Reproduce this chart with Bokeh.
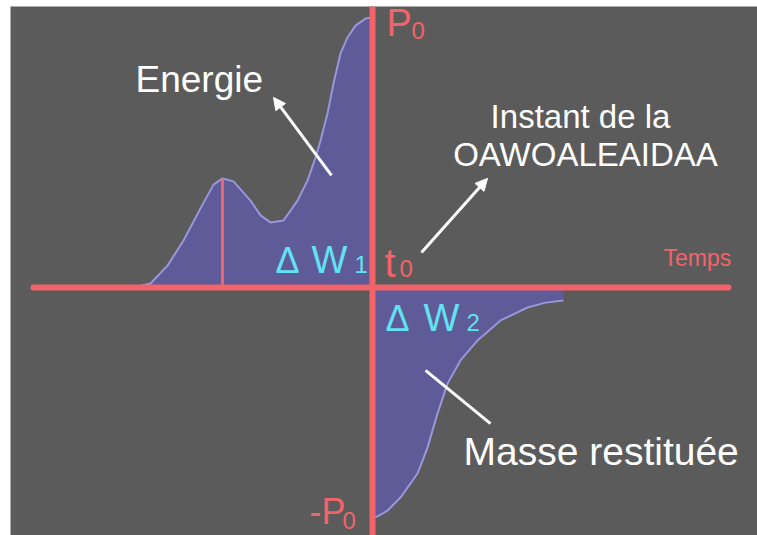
from bokeh.plotting import figure
from bokeh.models import Range1d, Arrow, NormalHead
from bokeh.core.properties import value
from bokeh.embed import file_html
from bokeh.resources import INLINE

# ---- data (time t, with t0 = 0 ; power P, with P0 = 1) ----
t_before = [-2.39, -2.22, -2.05, -1.89, -1.72, -1.59, -1.50, -1.39, -1.22, -1.12,
            -1.02, -0.89, -0.75, -0.65, -0.57, -0.52, -0.45, -0.39, -0.32, -0.25,
            -0.17, -0.07, 0.0]
p_before = [0.0, 0.015, 0.081, 0.174, 0.293, 0.381, 0.404, 0.393, 0.322, 0.267,
            0.241, 0.248, 0.322, 0.396, 0.481, 0.544, 0.644, 0.756, 0.867, 0.926,
            0.970, 0.996, 1.0]
t_after = [0.0, 0.05, 0.15, 0.28, 0.45, 0.55, 0.65, 0.75, 0.88, 1.05, 1.28, 1.55, 1.73, 1.91]
p_after = [-0.85, -0.848, -0.826, -0.778, -0.689, -0.593, -0.467, -0.356, -0.270,
           -0.196, -0.122, -0.074, -0.056, -0.048]
t_peak = -1.50
p_peak = 0.404
time_axis = [-3.39, 3.56]
power_axis = [1.08, -0.95]

BG = "#5b5b5b"
RED = "#f2636a"
CYAN = "#62e2f2"
FILL = "#5e5b98"
CURVE = "#9a96dc"
FONT = value("Liberation Sans")

p = figure(width=757, height=535, output_backend="svg", toolbar_location=None,
           x_range=Range1d(-3.62, 3.85), y_range=Range1d(-0.9185, 1.0407),
           min_border_left=10, min_border_right=0, min_border_top=6, min_border_bottom=0,
           background_fill_color=BG, border_fill_color="white", outline_line_color=None)
p.xaxis.visible = False
p.yaxis.visible = False
p.grid.visible = False

# filled areas
p.varea(x=t_before, y1=[0] * len(t_before), y2=p_before, fill_color=FILL)
p.varea(x=t_after, y1=p_after, y2=[0] * len(t_after), fill_color=FILL)
p.line(t_before, p_before, line_color=CURVE, line_width=2)
p.line(t_after, p_after, line_color=CURVE, line_width=2)

# axes
p.line(time_axis, [0, 0], line_color=RED, line_width=6, line_cap="round")
p.line([0, 0], power_axis, line_color=RED, line_width=6)
p.line([t_peak, t_peak], [0, p_peak], line_color=RED, line_width=3)

# annotation arrows
p.add_layout(Arrow(end=NormalHead(size=12, fill_color="white", line_color="white"),
                   x_start=-0.41, y_start=0.415, x_end=-0.99, y_end=0.704,
                   line_color="white", line_width=3))
p.add_layout(Arrow(end=NormalHead(size=12, fill_color="white", line_color="white"),
                   x_start=0.49, y_start=0.130, x_end=1.15, y_end=0.404,
                   line_color="white", line_width=3))
p.segment(x0=[0.53], y0=[-0.307], x1=[1.18], y1=[-0.504], line_color="white", line_width=3)

def label(x, y, txt, size, color, align="left"):
    p.text(x=[x], y=[y], text=[txt], text_font=FONT, text_font_size=f"{size}px",
           text_color=color, text_align=align, text_baseline="middle")

# white labels
label(-2.37, 0.770, "Energie", 37, "white")
label(2.08, 0.633, "Instant de la", 33, "white", "center")
label(2.13, 0.494, "OAWOALEAIDAA", 33, "white", "center")
label(0.91, -0.609, "Masse restituée", 39, "white")

# red axis labels
label(2.91, 0.111, "Temps", 23, RED)
label(0.14, 0.978, "P", 38, RED)
label(0.39, 0.952, "0", 24, RED)
label(0.12, 0.091, "t", 40, RED)
label(0.27, 0.072, "0", 24, RED)
label(-0.63, -0.831, "-P", 36, RED)
label(-0.30, -0.862, "0", 24, RED)

# cyan energy labels
label(-0.97, 0.100, "Δ", 36, CYAN)
label(-0.61, 0.100, "W", 38, CYAN)
label(-0.18, 0.085, "1", 24, CYAN)
label(0.13, -0.113, "Δ", 36, CYAN)
label(0.51, -0.113, "W", 38, CYAN)
label(0.94, -0.130, "2", 24, CYAN)

open("out.html", "w").write(file_html(p, INLINE))
